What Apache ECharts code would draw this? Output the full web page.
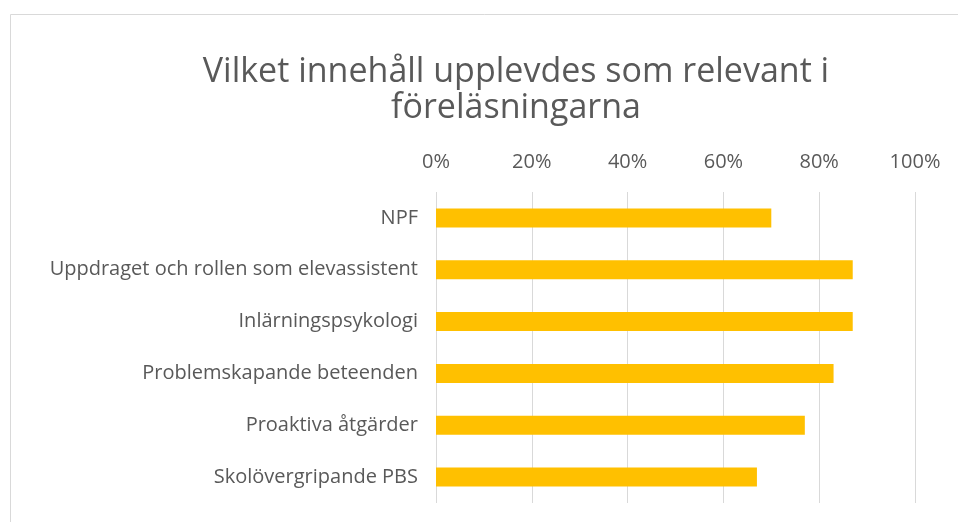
<!DOCTYPE html>
<html>
<head>
<meta charset="utf-8">
<script src="https://cdn.jsdelivr.net/npm/echarts@6/dist/echarts.min.js"></script>
<style>
  html, body { margin: 0; padding: 0; background: #fff; }
  #chart { width: 958px; height: 522px; }
</style>
</head>
<body>
<div id="chart"></div>
<script>
const categories = [
  'NPF',
  'Uppdraget och rollen som elevassistent',
  'Inlärningspsykologi',
  'Problemskapande beteenden',
  'Proaktiva åtgärder',
  'Skolövergripande PBS'
]
const values = [70, 87, 87, 83, 77, 67]

const textColor = '#595959'
const fontFamily = '"Open Sans", sans-serif'

const chart = echarts.init(document.getElementById('chart'))
chart.setOption({
  animation: false,
  graphic: [
    {
      type: 'rect',
      shape: { x: 10.5, y: 14.5, width: 1000, height: 600 },
      style: { fill: 'none', stroke: '#D9D9D9', lineWidth: 1 }
    }
  ],
  title: {
    text: 'Vilket innehåll upplevdes som relevant i\nföreläsningarna',
    left: 511,
    top: 49,
    textAlign: 'center',
    textStyle: {
      fontFamily,
      fontSize: 34,
      fontWeight: 'normal',
      color: textColor,
      lineHeight: 36
    }
  },
  grid: { left: 436, right: 43, top: 192, bottom: 19, containLabel: false },
  xAxis: {
    type: 'value',
    position: 'top',
    min: 0,
    max: 100,
    interval: 20,
    axisLine: { show: false },
    axisTick: { show: false },
    axisLabel: {
      formatter: '{value}%',
      fontFamily,
      fontSize: 20,
      color: textColor,
      margin: 20
    },
    splitLine: { lineStyle: { color: '#D9D9D9', width: 1 } }
  },
  yAxis: {
    type: 'category',
    data: categories,
    inverse: true,
    axisLine: { show: false },
    axisTick: { show: false },
    axisLabel: {
      fontFamily,
      fontSize: 20,
      color: textColor,
      margin: 18
    }
  },
  series: [
    {
      type: 'bar',
      data: values,
      barWidth: 19,
      itemStyle: { color: '#FFC000' }
    }
  ]
})
</script>
</body>
</html>
